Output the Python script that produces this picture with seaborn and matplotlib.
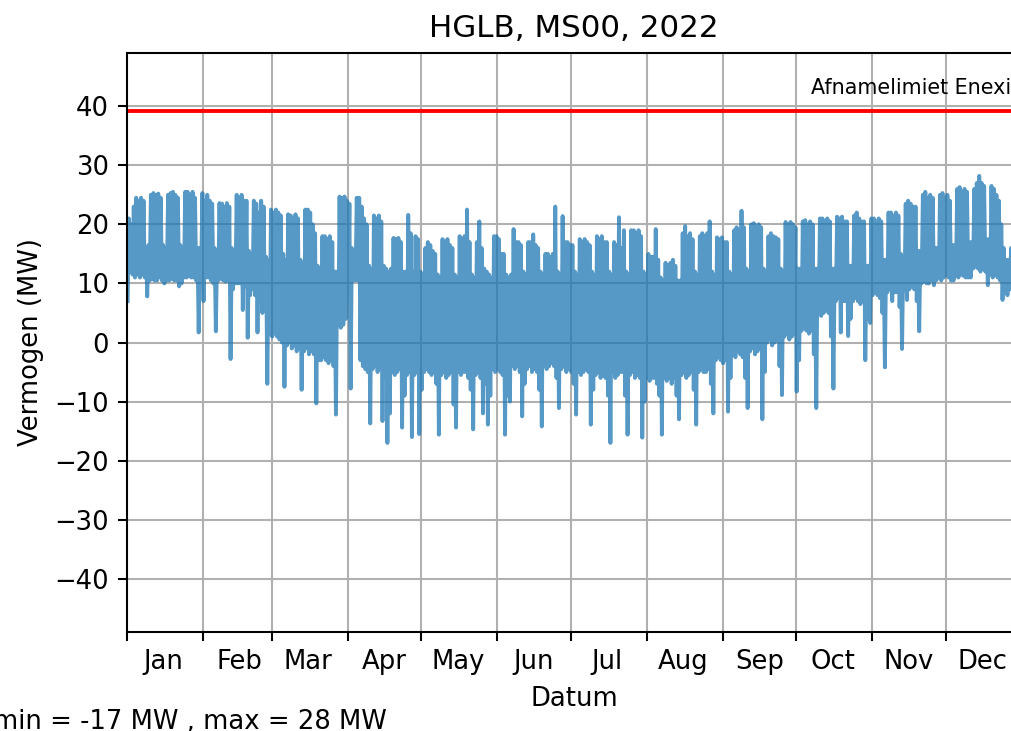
import numpy as np
import pandas as pd
import matplotlib
matplotlib.use("Agg")
import matplotlib.pyplot as plt
import matplotlib.dates as mdates
from matplotlib.ticker import NullFormatter
import seaborn as sns

# daily upper (hi) and lower (lo) values in MW, one row per week (Mon..Sun)
# first row: Sat 1 + Sun 2 Jan, last row: Mon 26 .. Sat 31 Dec
hi = [
    [21, 20],
    [23, 24.5, 24, 24.5, 24, 16, 16.5],
    [25, 25.3, 25, 25.2, 24.5, 16.5, 16],
    [25, 25.3, 25.5, 25, 24.5, 16.5, 16],
    [25.5, 25.5, 25, 25.5, 24.5, 16, 16],
    [25.3, 24, 25, 24, 23.5, 16, 15.5],
    [23.6, 23.5, 23, 23.6, 23, 16, 15.5],
    [25, 24.5, 25, 24, 24, 15.5, 15],
    [24, 23.5, 22, 24, 23, 14.5, 14],
    [22.5, 22, 22.5, 22, 21.5, 15, 14],
    [21.7, 21.5, 21, 21.7, 21, 14, 13.5],
    [22.5, 22.5, 22, 20, 18.5, 13, 12.5],
    [18, 18, 17.5, 18, 17, 12, 12],
    [24.7, 24.5, 24.7, 24, 23.5, 16, 15.5],
    [24.5, 24.5, 23, 21, 20, 13, 12.5],
    [21.5, 21, 21.5, 20.5, 13, 12.5, 12],
    [12.5, 17.7, 17.5, 17.7, 17, 12, 12],
    [21.6, 18.5, 12, 18, 17.5, 12, 11.5],
    [16, 17, 16.5, 15.5, 15, 11.5, 11],
    [17.5, 17, 17.5, 16.5, 16, 11.5, 11],
    [18, 17.5, 18, 22.5, 17, 11.5, 11],
    [17, 20.5, 16, 12.5, 12, 11.5, 11],
    [18, 18, 17.5, 15, 15, 11.5, 11],
    [11.5, 19.2, 17, 17, 16.5, 12, 11.5],
    [17, 17, 18.3, 16.5, 16, 12, 11.5],
    [15, 15, 14.5, 15, 23, 12, 11.5],
    [21.4, 17, 17, 16.5, 16.5, 12, 11.5],
    [17.5, 17, 17.5, 17, 16.5, 12, 11.5],
    [18, 17.5, 18, 17, 17, 12, 11.5],
    [17, 16.5, 21.2, 16, 19, 12, 11.5],
    [19, 19, 18.5, 19, 18, 12, 11.5],
    [15, 14.5, 14.5, 19.2, 14, 11, 10.5],
    [13.5, 13, 13.5, 14, 13, 10.5, 10.5],
    [18.5, 19.7, 18, 18.5, 17.5, 12, 11.5],
    [18, 18.5, 18, 18.5, 20.5, 12, 11.5],
    [17.8, 17.5, 17.8, 17, 17, 12, 11.5],
    [19, 19.5, 19, 22.3, 19.5, 12.5, 12],
    [20, 20.2, 19.5, 20, 19.5, 12.5, 12],
    [18, 18.5, 18, 17.8, 17.5, 12.5, 12],
    [20.4, 20, 20.4, 20, 19.5, 12.5, 12.5],
    [20.5, 20.7, 20, 20.5, 20, 12.5, 12.5],
    [21, 21, 20.5, 21, 20.5, 12.5, 12.5],
    [21.3, 21, 21.3, 20.5, 20.5, 13, 13],
    [21.5, 22, 21, 20.5, 20.5, 13, 13],
    [21, 21, 20.5, 21, 20.5, 14, 14],
    [22, 22, 21.5, 22, 21.5, 15, 14.5],
    [23.5, 24, 23.5, 23, 23, 15.5, 15.5],
    [25, 25.5, 24.5, 25, 24.5, 16, 16],
    [25, 25.3, 24.5, 25, 24, 16.5, 16.5],
    [26, 26.3, 25.5, 26, 25.5, 17, 17],
    [26, 27, 28.2, 27, 26.5, 17.5, 17.5],
    [26.5, 26, 25, 24, 20, 16, 14],
    [14, 16, 18, 18, 17, 14],
]
lo = [
    [7, 12],
    [11.5, 11, 11.5, 11, 11.5, 11, 7.8],
    [10.5, 10.8, 10.5, 10.5, 11, 10.5, 10],
    [10.5, 10.5, 10.8, 10.5, 10.5, 9.5, 10],
    [11, 11, 11.2, 11, 11, 10.5, 1.7],
    [11, 7, 11, 11, 10.5, 10, 1.9],
    [10.5, 10.8, 10.5, 10.3, 10.5, -2.8, 9],
    [10, 10, 10, 5.5, 9.5, 0.8, 8],
    [9, 8, 1.7, 7, 5, 6, -7],
    [1.5, 1, 1.5, 1, 0.5, 0, -7.5],
    [-0.5, 0, -1, -0.5, -1.5, -1, -8],
    [-1.5, -1, -2, -1.5, -2, -10.3, -3],
    [-3, -2.5, -3, -3.5, -3, -4, -12.2],
    [3, 2.5, 3, 4, 8, -7.8, 10.5],
    [10.5, 10.5, -3, -4, -4.5, -5, -13.7],
    [-4.5, -4, -5, -4.5, -13.3, -6, -17],
    [-12, -5, -5.5, -5, -4.5, -14.4, -9],
    [-5.5, -5, -16, -5.5, -5, -15.5, -8],
    [-5, -4.5, -5, -5.5, -5, -7, -15.6],
    [-5.5, -5, -6, -5.5, -5, -10.5, -14.4],
    [-5, -5.5, -5, -5, -6, -8, -14.7],
    [-5.5, -5, -6, -12, -7, -13.9, -9],
    [-4.5, -5, -4.5, -5, -5.5, -15.6, -9],
    [-10, -4, -4.5, -4, -5, -12.5, -7],
    [-4.5, -4, -5, -4.5, -5, -8, -14.2],
    [-4, -4.5, -4, -3.5, -4, -6, -11.1],
    [-4.5, -4, -5, -4.5, -5, -7, -12.2],
    [-5, -5.5, -5, -4.5, -5, -13.9, -8],
    [-5.5, -5, -6, -5.5, -6, -9, -17],
    [-5, -6, -5.5, -5, -5, -9, -15.6],
    [-5.5, -5, -6, -5.5, -6, -16.1, -10],
    [-6, -6.5, -6, -6, -7, -9, -15.6],
    [-6, -6.5, -6, -7, -6, -9, -13],
    [-5.5, -5, -6, -5.5, -5, -8, -13.9],
    [-5, -4.5, -5, -5, -4.5, -7, -12],
    [-3, -2.5, -3, -3.5, -3, -11.7, -6],
    [-2, -2.5, -1.5, -2, -2.5, -6, -11.1],
    [-1.5, -1, -2, -1.5, -1, -13, -5],
    [0, 0.5, -0.5, 0, 0.5, -4, -8.9],
    [1, 1.5, 0.5, 1, 1.5, -8.3, -3],
    [2, 2.5, 2, 1.5, 2, -2, -11.1],
    [5, 4.5, 5, 5.5, 5, 1, -7.8],
    [7, 7.5, 1.7, 7, 7, 1.1, 4],
    [7, 7.5, 7, 6.5, 7, -3, 4],
    [3.3, 8, 8.5, 8, 7.5, 5, -4.2],
    [8.5, 9, 7, 8.5, 8.5, 6, -1.1],
    [9, 7.2, 9, 9.5, 9, 7, 1.9],
    [10, 10.5, 10, 10, 10.5, 9.7, 10.5],
    [11, 10.5, 11, 11.5, 11, 10.5, 10.5],
    [11.3, 11, 11.5, 11.3, 11, 11, 11],
    [12.5, 12.8, 12.5, 12, 12.5, 12, 9.7],
    [11.5, 11, 11.5, 11, 10.5, 7.2, 9],
    [8, 9, 10, 10, 10, 9],
]
limiet = 39.1
limiet_label = "Afnamelimiet Enexis"
title = "HGLB, MS00, 2022"

daily_hi = [v for week in hi for v in week]
daily_lo = [v for week in lo for v in week]
days = pd.date_range("2022-01-01", periods=len(daily_hi), freq="D")

tijd, vermogen = [], []
for d, l, h in zip(days, daily_lo, daily_hi):
    tijd += [d + pd.Timedelta(hours=6), d + pd.Timedelta(hours=18)]
    vermogen += [l, h]
df = pd.DataFrame({"tijd": tijd, "vermogen": vermogen})

s = 1.86  # original was drawn at ~186 dpi
plt.rcParams.update({
    "font.size": 10 * s,
    "axes.titlesize": 12 * s,
    "axes.linewidth": 0.8 * s,
    "grid.linewidth": 0.8 * s,
    "lines.linewidth": 1.5 * s,
    "xtick.major.size": 3.5 * s,
    "ytick.major.size": 3.5 * s,
    "xtick.major.width": 0.8 * s,
    "ytick.major.width": 0.8 * s,
    "xtick.major.pad": 3.5 * s,
    "ytick.major.pad": 3.5 * s,
    "axes.labelpad": 4 * s,
    "axes.titlepad": 6 * s,
})

fig = plt.figure(figsize=(10.12, 7.31), dpi=100)
ax = fig.add_axes([0.1255, 0.1354, 0.8839, 0.7921])
ax.grid(True, color="#b0b0b0")
ax.set_axisbelow(True)

sns.lineplot(data=df, x="tijd", y="vermogen", ax=ax, color="C0",
             alpha=0.75, linewidth=1.5 * s, estimator=None)
ax.axhline(limiet, color="red", linewidth=1.5 * s)
ax.text(1.0, limiet + 2.2, limiet_label, ha="right", va="bottom",
        fontsize=8 * s, transform=ax.get_yaxis_transform())

ax.set_xlim(pd.Timestamp("2022-01-01"), pd.Timestamp("2023-01-01"))
ax.set_ylim(-49, 49)
ax.set_yticks(np.arange(-40, 41, 10))
ax.xaxis.set_major_locator(mdates.MonthLocator())
ax.xaxis.set_major_formatter(NullFormatter())
ax.xaxis.set_minor_locator(mdates.MonthLocator(bymonthday=16))
ax.xaxis.set_minor_formatter(mdates.DateFormatter("%b"))
ax.tick_params(axis="x", which="minor", length=0, pad=6.7 * s)

ax.set_title(title)
ax.set_xlabel("Datum")
ax.set_ylabel("Vermogen (MW)")

fig.text(-7 / 1012, 2 / 731,
         f"min = {round(min(daily_lo))} MW , max = {round(max(daily_hi))} MW",
         ha="left", va="baseline")

fig.savefig("out.png", dpi=100)
